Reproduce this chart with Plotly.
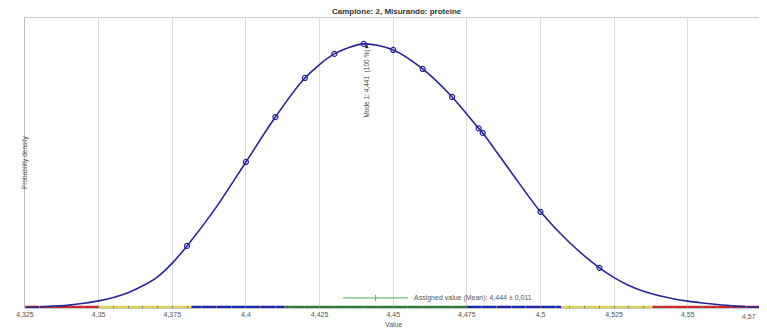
import plotly.graph_objects as go

# Density curve (arbitrary density units, peak ~10)
curve_x = [4.325, 4.33, 4.335, 4.34, 4.345, 4.35, 4.355, 4.36, 4.365, 4.37, 4.375, 4.38, 4.39,
           4.40, 4.41, 4.42, 4.43, 4.44, 4.45, 4.46, 4.47, 4.479, 4.4804, 4.49, 4.50, 4.51,
           4.52, 4.525, 4.53, 4.535, 4.54, 4.545, 4.55, 4.555, 4.56, 4.565, 4.57, 4.575]
curve_y = [0.02, 0.04, 0.07, 0.11, 0.18, 0.27, 0.40, 0.58, 0.84, 1.18, 1.70, 2.35, 3.83,
           5.53, 7.23, 8.71, 9.62, 10.0, 9.77, 9.05, 7.99, 6.80, 6.63, 5.15, 3.64, 2.46,
           1.52, 1.15, 0.85, 0.63, 0.47, 0.35, 0.26, 0.19, 0.13, 0.08, 0.05, 0.03]

# Data points marked on the curve
point_x = [4.38, 4.40, 4.41, 4.42, 4.43, 4.44, 4.45, 4.46, 4.47, 4.479, 4.4804, 4.50, 4.52]
point_y = [2.35, 5.53, 7.23, 8.71, 9.62, 10.0, 9.77, 9.05, 7.99, 6.80, 6.63, 3.64, 1.52]

# Score bands along the value axis
band_edges = [4.325, 4.35, 4.3815, 4.413, 4.475, 4.507, 4.538, 4.575]
band_colors = ["#cc2a2a", "#dcd45a", "#1c24a8", "#2e7d32", "#1c24a8", "#dcd45a", "#cc2a2a"]

assigned_mean = 4.444
assigned_u = 0.011
mode_value = 4.441
mode_density = 10.0

tick_vals = [4.325, 4.35, 4.375, 4.4, 4.425, 4.45, 4.475, 4.5, 4.525, 4.55]
tick_text = ["4,325", "4,35", "4,375", "4,4", "4,425", "4,45", "4,475", "4,5", "4,525", "4,55"]
last_tick_val = 4.575
last_tick_text = "4,57"

fig = go.Figure()

for i, c in enumerate(band_colors):
    fig.add_trace(go.Scatter(x=[band_edges[i], band_edges[i + 1]], y=[0, 0], mode="lines",
                             line=dict(color=c, width=4.5), cliponaxis=False,
                             hoverinfo="skip", showlegend=False))

fig.add_trace(go.Scatter(x=curve_x, y=curve_y, mode="lines",
                         line=dict(color="#25259a", width=1.6, shape="spline", smoothing=0.8),
                         cliponaxis=False, showlegend=False))
fig.add_trace(go.Scatter(x=point_x, y=point_y, mode="markers",
                         marker=dict(symbol="circle-open", size=5, color="#25259a",
                                     line=dict(width=1.2, color="#25259a")),
                         showlegend=False))

# Assigned value with uncertainty
ay_level = 0.38
fig.add_trace(go.Scatter(x=[assigned_mean - assigned_u, assigned_mean + assigned_u], y=[ay_level, ay_level],
                         mode="lines", line=dict(color="#6cc47a", width=1.2), showlegend=False))
fig.add_trace(go.Scatter(x=[assigned_mean, assigned_mean], y=[ay_level - 0.12, ay_level + 0.12],
                         mode="lines", line=dict(color="#6cc47a", width=1.2), showlegend=False))
fig.add_annotation(x=assigned_mean + assigned_u, y=ay_level, xshift=4, xanchor="left", yanchor="middle",
                   text="Assigned value (Mean): 4,444 ± 0,011", showarrow=False,
                   font=dict(size=7, color="#555555"))

# Mode annotation
fig.add_annotation(x=mode_value, y=mode_density, text="Mode 1: 4,441  (100 %)", textangle=-90,
                   showarrow=True, arrowhead=2, arrowsize=0.8, arrowwidth=1, arrowcolor="#333333",
                   ax=0, ay=40, font=dict(size=6.5, color="#444444"))

fig.add_annotation(xref="paper", yref="paper", x=0, y=0.5, xshift=-6, text="Probability density",
                   textangle=-90, showarrow=False, font=dict(size=6.5, color="#555555"))
fig.add_annotation(xref="paper", yref="paper", x=0.5, y=0, yshift=-16, yanchor="middle",
                   text="Value", showarrow=False, font=dict(size=7, color="#555555"))
fig.add_annotation(x=last_tick_val, xref="x", yref="paper", y=0, yshift=-8, xshift=-3,
                   xanchor="right", yanchor="middle", text=last_tick_text, showarrow=False,
                   font=dict(size=7, color="#555555"))

fig.update_layout(
    width=759, height=321,
    margin=dict(l=17, r=5, t=10, b=21, pad=0),
    paper_bgcolor="white", plot_bgcolor="white",
    font=dict(family="Liberation Sans, Arial, sans-serif", color="#555555"),
    title=dict(text="<b>Campione: 2, Misurando: proteine</b>", x=0.512, xanchor="center",
               y=1.0, yref="container", yanchor="top", pad=dict(t=0, b=0),
               font=dict(size=8, color="#333333")),
    xaxis=dict(range=[4.325, 4.5752], tickvals=tick_vals, ticktext=tick_text, automargin=False,
               tickfont=dict(size=7, color="#555555"), showgrid=True, gridcolor="#dddddd",
               gridwidth=1, showline=True, linecolor="#c8c8c8", mirror=True, ticks="",
               zeroline=False,
               minor=dict(dtick=0.005, ticks="inside", ticklen=2, tickcolor="#777777", showgrid=False)),
    yaxis=dict(range=[0, 10.98], showticklabels=False, showgrid=False, zeroline=False, automargin=False,
               showline=True, linecolor="#c0c0c0", mirror=True, ticks=""),
)

fig.write_html("out.html")
